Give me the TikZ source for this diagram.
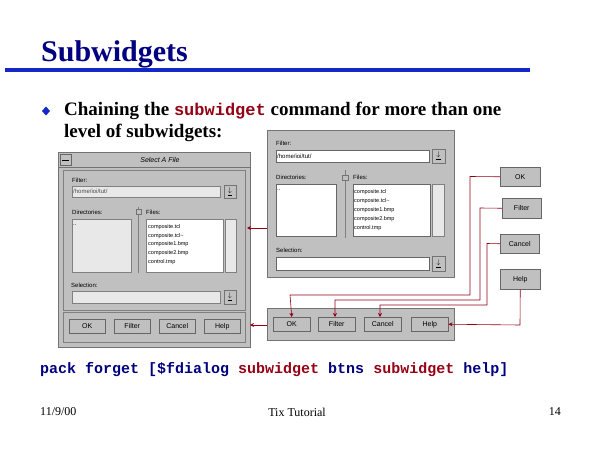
\documentclass[tikz,border=0pt]{standalone}
\usepackage{fontspec}
\usetikzlibrary{arrows.meta}
\setmainfont{Liberation Serif}
\setmonofont{Liberation Mono}
\newfontfamily\ui{Liberation Sans}
\definecolor{ttl}{RGB}{0,0,128}
\definecolor{rbar}{RGB}{20,40,200}
\definecolor{dred}{RGB}{150,0,20}
\definecolor{wg}{RGB}{192,192,192}
\definecolor{wl}{RGB}{232,232,232}
\begin{document}
\begin{tikzpicture}[x=1pt,y=-1pt,
  panel/.style={fill=wg,draw=black!55,line width=0.5pt},
  btn/.style={fill=wg,draw=black!60,line width=0.5pt,font=\ui\fontsize{7}{8}\selectfont,inner sep=0pt,anchor=north west},
  field/.style={fill=white,draw=black!60,line width=0.5pt},
  lab/.style={font=\ui\fontsize{6}{7}\selectfont,anchor=west,inner sep=0pt},
  arr/.style={draw=dred,line width=0.6pt,-{Stealth[length=4pt,width=4pt]}}]
\useasboundingbox (0,0) rectangle (600,450);
\fill[white] (0,0) rectangle (600,450);
% title
\node[anchor=west,text=ttl,font=\bfseries\fontsize{30}{32}\selectfont,inner sep=0pt] (title) at (41,54) {Subwidgets};
\fill[rbar] (5,68) rectangle (530,71.5);
\fill[rbar] (46,106.5) -- (50,111) -- (46,115.5) -- (42,111) -- cycle;
\node[anchor=west,font=\bfseries\fontsize{19}{21}\selectfont,inner sep=0pt] (b1) at (64,111) {Chaining the {\ttfamily\fontsize{17}{19}\selectfont\color{dred}subwidget} command for more than one};
\node[anchor=west,font=\bfseries\fontsize{19}{21}\selectfont,inner sep=0pt] (b2) at (64,133) {level of subwidgets:};
% left dialog
\draw[panel] (58,152) rectangle (250,347);
\draw[panel] (58,152) rectangle (250,167);
\draw[black!60] (60,154) rectangle (71,165);
\draw (62,160) -- (69,160);
\node[font=\ui\itshape\fontsize{7}{8}\selectfont] (lt) at (160,160) {Select A File};
\draw[black!50] (63,170) rectangle (245,310);
\node[lab] at (72,180) {Filter:};
\draw[fill=wl,draw=black!50] (72,186) rectangle (220,197);
\node[lab,text=black!70] at (73,191.5) {/home/ioi/tut/};
\draw[panel] (224,185) rectangle (236,198); \node[font=\fontsize{7}{7}\selectfont] at (230,191.5) {$\underline{\downarrow}$};
\node[lab] at (72,212) {Directories:};
\node[lab] at (146,212) {Files:};
\draw[fill=wl,draw=black!50] (72,219) rectangle (131,272);
\node[lab] at (73,225) {..};
\draw[black!50] (138,207) -- (138,273); \draw[panel] (136,209) rectangle (141,214);
\draw[fill=white,draw=black!50] (146,219) rectangle (223,272);
\draw[fill=wl,draw=black!50] (225,219) rectangle (236,272);
\foreach \t [count=\i] in {composite.tcl,composite.tcl\textasciitilde,composite1.bmp,composite2.bmp,control.tmp}
  \node[lab,font=\ui\fontsize{5.5}{6}\selectfont] at (148,218+\i*8.8) {\t};
\node[lab] at (71,285) {Selection:};
\draw[fill=wl,draw=black!50] (72,291) rectangle (220,303);
\draw[panel] (224,290) rectangle (236,304); \node[font=\fontsize{7}{7}\selectfont] at (230,297) {$\underline{\downarrow}$};
\draw[black!50] (63,312) rectangle (245,342);
\node[btn,minimum width=36pt,minimum height=14pt] (l1) at (69,319) {OK};
\node[btn,minimum width=36pt,minimum height=14pt] (l2) at (114,319) {Filter};
\node[btn,minimum width=36pt,minimum height=14pt] (l3) at (159,319) {Cancel};
\node[btn,minimum width=36pt,minimum height=14pt] (l4) at (204,319) {Help};
% right top panel
\draw[panel] (267,130) rectangle (454,277);
\node[lab] at (276,143) {Filter:};
\draw[field] (276,150) rectangle (429,162); \node[lab] at (277,156) {/home/ioi/tut/};
\draw[panel] (432,149) rectangle (445,163); \node[font=\fontsize{7}{7}\selectfont] at (438.5,156) {$\underline{\downarrow}$};
\node[lab] at (276,177) {Directories:};
\node[lab] at (353,177) {Files:};
\draw[field] (276,184) rectangle (336,236); \node[lab] at (277,190) {..};
\draw[black!50] (345,170) -- (345,238); \draw[panel] (342,175) rectangle (348,180);
\draw[field] (353,184) rectangle (430,236);
\draw[fill=wl,draw=black!50] (432,184) rectangle (444,236);
\foreach \t [count=\i] in {composite.tcl,composite.tcl\textasciitilde,composite1.bmp,composite2.bmp,control.tmp}
  \node[lab,font=\ui\fontsize{5.5}{6}\selectfont] at (354,183+\i*9) {\t};
\node[lab] at (276,250) {Selection:};
\draw[field] (276,257) rectangle (429,270);
\draw[panel] (432,256) rectangle (445,271); \node[font=\fontsize{7}{7}\selectfont] at (438.5,263.5) {$\underline{\downarrow}$};
% right button panel
\draw[panel] (267,308) rectangle (454,340);
\node[btn,minimum width=37pt,minimum height=14pt] (r1) at (273,317) {OK};
\node[btn,minimum width=37pt,minimum height=14pt] (r2) at (318,317) {Filter};
\node[btn,minimum width=37pt,minimum height=14pt] (r3) at (364,317) {Cancel};
\node[btn,minimum width=37pt,minimum height=14pt] (r4) at (411,317) {Help};
% separate buttons
\node[btn,minimum width=40pt,minimum height=19pt] (s1) at (500,167) {OK};
\node[btn,minimum width=39pt,minimum height=20pt] (s2) at (502,198) {Filter};
\node[btn,minimum width=39pt,minimum height=19pt] (s3) at (500,234) {Cancel};
\node[btn,minimum width=40pt,minimum height=20pt] (s4) at (500,269) {Help};
% arrows
\draw[arr] (s1.west) -- (470,176.5) -- (470,295) -- (290,295) -- (r1.north);
\draw[arr] (s2.west) -- (480,208) -- (480,300) -- (335,300) -- (335,317);
\draw[arr] (s3.west) -- (487,243.5) -- (487,305) -- (380,305) -- (380,317);
\draw[arr] (s4.south) -- (520,325) -- (r4.east);
\coordinate (a1) at (267,228);
\coordinate (a2) at (267,325);
\draw[arr] (a1) -- (247,228);
\draw[arr] (a2) -- (250,325);
% code
\node[anchor=west,inner sep=0pt,font=\ttfamily\bfseries\fontsize{15}{16}\selectfont,text=ttl] (code) at (40,370) {pack forget [\$fdialog {\color{dred}subwidget} btns {\color{dred}subwidget} help]};
% footer
\node[anchor=west,inner sep=0pt,font=\fontsize{12}{13}\selectfont] (f1) at (40,412) {11/9/00};
\node[inner sep=0pt,font=\fontsize{12}{13}\selectfont] (f2) at (297,412) {Tix Tutorial};
\node[anchor=east,inner sep=0pt,font=\fontsize{12}{13}\selectfont] (f3) at (561,412) {14};
\end{tikzpicture}
\end{document}
